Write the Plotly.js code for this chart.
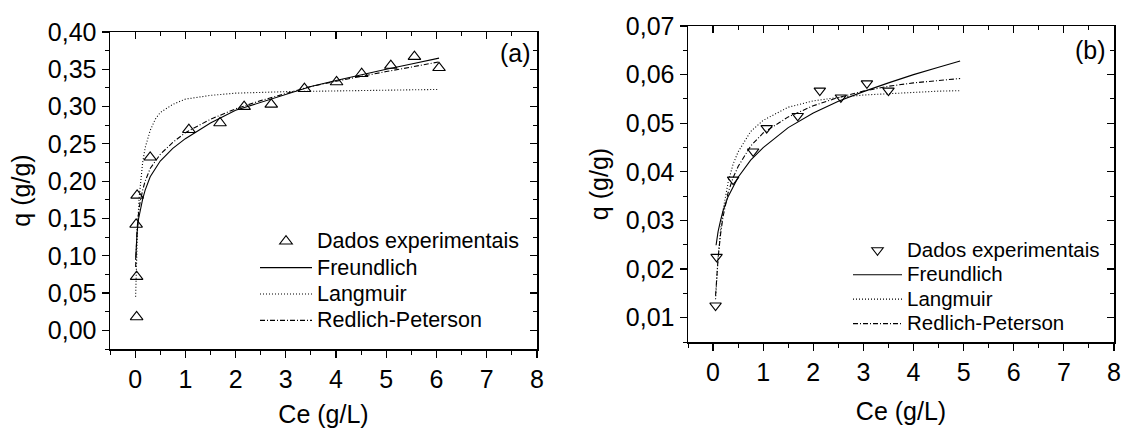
<!DOCTYPE html>
<html>
<head>
<meta charset="utf-8">
<script src="https://cdn.plot.ly/plotly-3.0.1.min.js"></script>
<style>
  html, body { margin: 0; padding: 0; background: #fff; }
  #chart { width: 1122px; height: 428px; }
</style>
</head>
<body>
<div id="chart"></div>
<script>
// ---------- Panel (a) ----------
const ceA = [0.03, 0.03, 0.02, 0.04, 0.30, 1.07, 1.69, 2.17, 2.71, 3.37, 4.01, 4.51, 5.09, 5.56, 6.05];
const qA  = [0.018, 0.072, 0.142, 0.181, 0.232, 0.269, 0.278, 0.300, 0.303, 0.324, 0.333, 0.344, 0.355, 0.367, 0.352];

const ceA_fit = [0.01, 0.02, 0.04, 0.07, 0.10, 0.15, 0.20, 0.30, 0.50, 0.75, 1.00, 1.50, 2.00, 2.50, 3.00, 3.50, 4.00, 4.50, 5.00, 5.50, 6.05];
const freundA = [0.095, 0.112, 0.132, 0.150, 0.161, 0.176, 0.188, 0.206, 0.227, 0.244, 0.257, 0.278, 0.295, 0.306, 0.317, 0.327, 0.335, 0.343, 0.350, 0.357, 0.365];
const redlichA = [0.085, 0.110, 0.137, 0.158, 0.172, 0.188, 0.200, 0.217, 0.236, 0.252, 0.265, 0.283, 0.297, 0.308, 0.318, 0.327, 0.334, 0.341, 0.347, 0.353, 0.360];

const ceA_lang = [0.01, 0.02, 0.03, 0.05, 0.08, 0.10, 0.15, 0.20, 0.30, 0.40, 0.50, 0.75, 1.00, 1.50, 2.00, 3.00, 4.00, 5.00, 6.05];
const langA    = [0.045, 0.080, 0.105, 0.140, 0.178, 0.195, 0.225, 0.245, 0.268, 0.283, 0.292, 0.303, 0.310, 0.315, 0.318, 0.320, 0.321, 0.322, 0.323];

// ---------- Panel (b) ----------
const ceB = [0.05, 0.07, 0.40, 0.80, 1.07, 1.69, 2.13, 2.55, 3.07, 3.50];
const qB  = [0.0125, 0.0225, 0.0384, 0.0442, 0.0490, 0.0515, 0.0567, 0.0553, 0.0582, 0.0567];

const ceB_freund = [0.06, 0.10, 0.15, 0.20, 0.30, 0.50, 0.75, 1.00, 1.50, 2.00, 2.50, 3.00, 3.50, 4.00, 4.50, 4.93];
const freundB    = [0.0249, 0.0277, 0.0300, 0.0320, 0.0349, 0.0389, 0.0424, 0.0450, 0.0491, 0.0521, 0.0545, 0.0565, 0.0583, 0.0600, 0.0615, 0.0628];

const ceB_fit = [0.05, 0.07, 0.10, 0.15, 0.20, 0.30, 0.40, 0.50, 0.75, 1.00, 1.50, 2.00, 2.50, 3.00, 3.50, 4.00, 4.50, 4.93];
const langB   = [0.0138, 0.0175, 0.0222, 0.0280, 0.0321, 0.0378, 0.0416, 0.0441, 0.0483, 0.0506, 0.0533, 0.0546, 0.0553, 0.0558, 0.0561, 0.0564, 0.0566, 0.0567];
const redlichB = [0.0145, 0.0180, 0.0222, 0.0272, 0.0308, 0.0357, 0.0388, 0.0411, 0.0453, 0.0480, 0.0513, 0.0536, 0.0553, 0.0566, 0.0576, 0.0583, 0.0588, 0.0592];

const seriesNames = ['Dados experimentais', 'Freundlich', 'Langmuir', 'Redlich-Peterson'];
const panelLabels = ['(a)', '(b)'];
const xTitle = 'Ce (g/L)';
const yTitle = 'q (g/g)';

const FONT = '"Liberation Sans", Arial, Helvetica, sans-serif';
const W = 1122, H = 428;
const DOT = '1px,2px';
const DASHDOT = '5px,2px,1px,2px';

function big(name, px) { return '<span style="font-size:' + px + 'px">' + name + '</span>'; }

function lineTrace(x, y, name, dash, xa, ya, leg, px) {
  return { x: x, y: y, name: big(name, px), type: 'scatter', mode: 'lines',
           line: { color: '#000', width: 1.1, dash: dash },
           xaxis: xa, yaxis: ya, legend: leg, hoverinfo: 'x+y' };
}

const traces = [
  { x: ceA, y: qA, name: big(seriesNames[0], 21.5), type: 'scatter', mode: 'markers',
    marker: { symbol: 'triangle-up-open', size: 11, color: '#000', line: { width: 1.1, color: '#000' } },
    xaxis: 'x', yaxis: 'y', legend: 'legend' },
  lineTrace(ceA_fit, freundA, seriesNames[1], 'solid', 'x', 'y', 'legend', 21.5),
  lineTrace(ceA_lang, langA, seriesNames[2], DOT, 'x3', 'y3', 'legend', 21.5),
  lineTrace(ceA_fit, redlichA, seriesNames[3], DASHDOT, 'x', 'y', 'legend', 21.5),

  { x: ceB, y: qB, name: big(seriesNames[0], 20.5), type: 'scatter', mode: 'markers',
    marker: { symbol: 'triangle-down-open', size: 10, color: '#000', line: { width: 1.1, color: '#000' } },
    xaxis: 'x2', yaxis: 'y2', legend: 'legend2' },
  lineTrace(ceB_freund, freundB, seriesNames[1], 'solid', 'x2', 'y2', 'legend2', 20.5),
  lineTrace(ceB_fit, langB, seriesNames[2], DOT, 'x4', 'y4', 'legend2', 20.5),
  lineTrace(ceB_fit, redlichB, seriesNames[3], DASHDOT, 'x2', 'y2', 'legend2', 20.5)
];

const domXA = [110 / W, 537 / W];
const domYA = [(H - 349) / H, (H - 32) / H];
const domXB = [688 / W, 1114 / W];
const domYB = [(H - 342) / H, (H - 26) / H];

const tickFont = { family: FONT, size: 25, color: '#000' };
const titleFont = { family: FONT, size: 25, color: '#000' };

function baseAxis(extra) {
  return Object.assign({
    showgrid: false, zeroline: false, showline: true, linecolor: '#000', linewidth: 1.5,
    ticks: 'outside', ticklen: 7, tickwidth: 1.2, tickcolor: '#000',
    tickfont: tickFont, fixedrange: true
  }, extra);
}
function minorOut(d) { return { dtick: d, tick0: 0, ticks: 'outside', ticklen: 4, tickcolor: '#000', tickwidth: 1 }; }
function minorIn(d) { return { dtick: d, tick0: 0, ticks: 'inside', ticklen: 4, tickcolor: '#000', tickwidth: 1 }; }

const layout = {
  width: W, height: H,
  margin: { l: 0, r: 0, t: 0, b: 0 },
  paper_bgcolor: '#fff', plot_bgcolor: '#fff',
  separators: ',.',
  font: { family: FONT, color: '#000' },
  showlegend: true,

  xaxis: baseAxis({ domain: domXA, anchor: 'y', range: [-0.5, 8], dtick: 1, tick0: 0,
    minor: minorOut(0.5), title: { text: xTitle, font: titleFont, standoff: 18 } }),
  yaxis: baseAxis({ domain: domYA, anchor: 'x', range: [-0.025, 0.40], dtick: 0.05, tick0: 0,
    tickformat: '.2f', minor: minorOut(0.025), title: { text: yTitle, font: titleFont, standoff: 10 } }),
  xaxis3: baseAxis({ overlaying: 'x', matches: 'x', anchor: 'y3', side: 'top', range: [-0.5, 8], dtick: 1, tick0: 0,
    ticks: 'inside', showticklabels: false, minor: minorIn(0.5) }),
  yaxis3: baseAxis({ overlaying: 'y', matches: 'y', anchor: 'x3', side: 'right', range: [-0.025, 0.40], dtick: 0.05, tick0: 0,
    ticks: 'inside', showticklabels: false, minor: minorIn(0.025) }),

  xaxis2: baseAxis({ domain: domXB, anchor: 'y2', range: [-0.5, 8], dtick: 1, tick0: 0,
    minor: minorOut(0.5), title: { text: xTitle, font: titleFont, standoff: 18 } }),
  yaxis2: baseAxis({ domain: domYB, anchor: 'x2', range: [0.005, 0.07], dtick: 0.01, tick0: 0,
    tickformat: '.2f', minor: minorOut(0.005), title: { text: yTitle, font: titleFont, standoff: 10 } }),
  xaxis4: baseAxis({ overlaying: 'x2', matches: 'x2', anchor: 'y4', side: 'top', range: [-0.5, 8], dtick: 1, tick0: 0,
    ticks: 'inside', showticklabels: false, minor: minorIn(0.5) }),
  yaxis4: baseAxis({ overlaying: 'y2', matches: 'y2', anchor: 'x4', side: 'right', range: [0.005, 0.07], dtick: 0.01, tick0: 0,
    ticks: 'inside', showticklabels: false, minor: minorIn(0.005) }),

  legend: { x: 255 / W, y: (H - 223) / H, xanchor: 'left', yanchor: 'top',
    bgcolor: 'rgba(0,0,0,0)', borderwidth: 0, itemwidth: 52, tracegroupgap: 0,
    font: { family: FONT, size: 18, color: '#000' } },
  legend2: { x: 848 / W, y: (H - 233) / H, xanchor: 'left', yanchor: 'top',
    bgcolor: 'rgba(0,0,0,0)', borderwidth: 0, itemwidth: 49, tracegroupgap: 0,
    font: { family: FONT, size: 16.5, color: '#000' } },

  annotations: [
    { text: panelLabels[0], xref: 'paper', yref: 'paper', x: 515 / W, y: (H - 53) / H,
      xanchor: 'center', yanchor: 'middle', showarrow: false, font: { family: FONT, size: 25, color: '#000' } },
    { text: panelLabels[1], xref: 'paper', yref: 'paper', x: 1090 / W, y: (H - 50) / H,
      xanchor: 'center', yanchor: 'middle', showarrow: false, font: { family: FONT, size: 25, color: '#000' } }
  ]
};

Plotly.newPlot('chart', traces, layout, { displayModeBar: false, staticPlot: true });
</script>
</body>
</html>
